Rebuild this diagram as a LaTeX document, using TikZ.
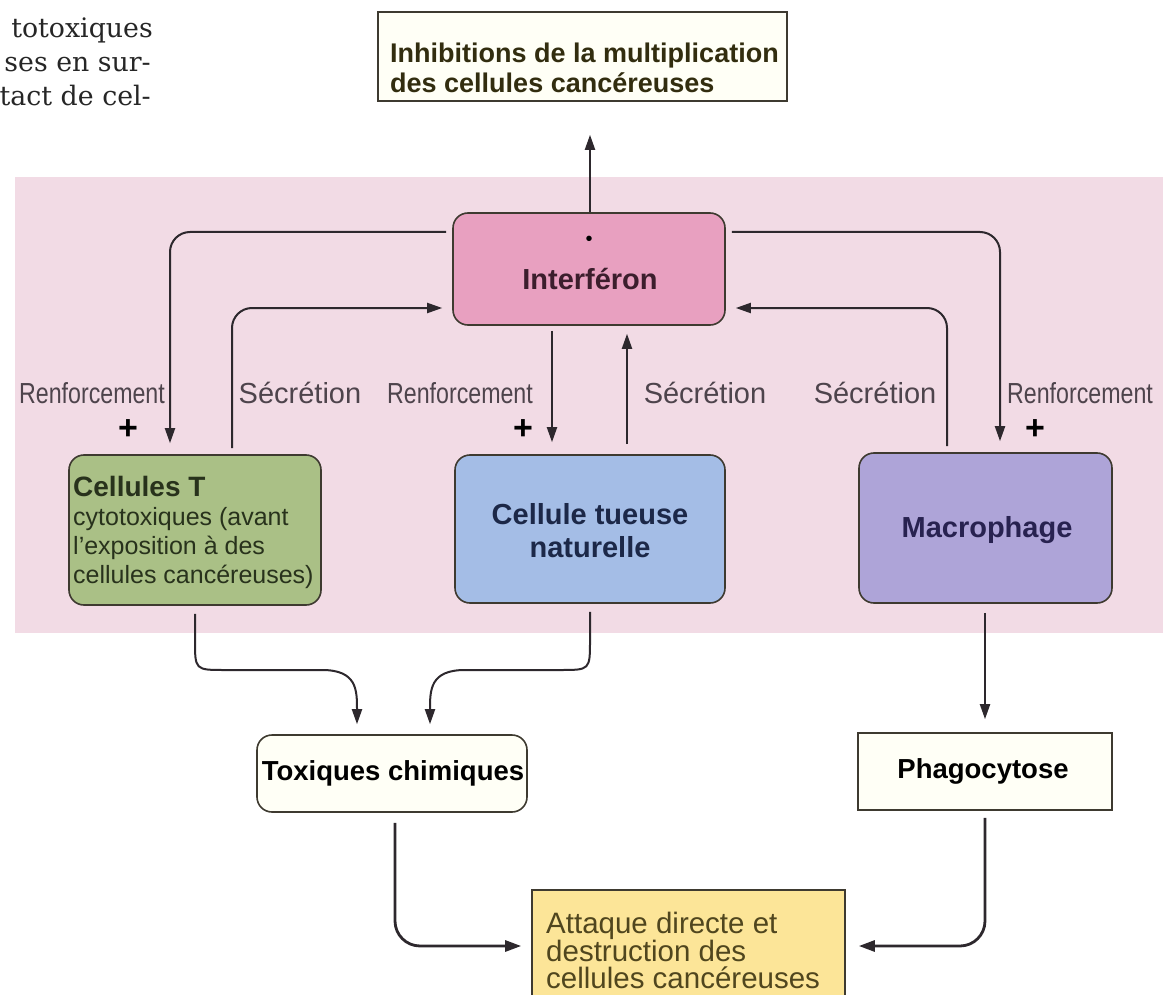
\documentclass[tikz,border=0pt]{standalone}
\usepackage{fontspec}
\setmainfont{Liberation Sans}
\newfontfamily\bookserif{DejaVu Serif}
\usetikzlibrary{arrows.meta}
\definecolor{pinkbg}{RGB}{242,219,229}
\definecolor{interc}{RGB}{232,160,192}
\definecolor{greenc}{RGB}{170,192,134}
\definecolor{bluec}{RGB}{164,189,230}
\definecolor{purplec}{RGB}{174,164,216}
\definecolor{yellowc}{RGB}{252,229,152}
\definecolor{creamc}{RGB}{255,255,246}
\definecolor{borderc}{RGB}{62,58,48}
\definecolor{linec}{RGB}{45,40,45}
\definecolor{labelc}{RGB}{78,68,76}
\definecolor{greent}{RGB}{40,50,28}
\definecolor{bluet}{RGB}{28,40,72}
\definecolor{purplet}{RGB}{40,34,80}
\definecolor{intert}{RGB}{60,30,45}
\definecolor{olivet}{RGB}{50,45,15}
\definecolor{yellowt}{RGB}{80,70,30}
\begin{document}
\begin{tikzpicture}[x=1pt,y=-1pt,
  box/.style={draw=borderc, line width=1.6pt, inner sep=0pt},
  rbox/.style={box, rounded corners=15pt},
  arr/.style={draw=linec, line width=2pt, -{Triangle[length=15pt,width=10pt]}},
  arrb/.style={draw=linec, line width=2.8pt, -{Triangle[length=16pt,width=11pt]}},
  lab/.style={text=labelc, inner sep=0pt, font=\fontsize{29}{29}\selectfont},
  plus/.style={text=black, inner sep=0pt, font=\fontsize{34}{34}\selectfont\bfseries},
  para/.style={anchor=base east, inner sep=0pt, text=black!85, font=\bookserif\fontsize{26.8}{26.8}\selectfont}
]
\useasboundingbox (0,0) rectangle (1170,995);

% margin text of the page
\node[para] (p1) at (153,38) {totoxiques};
\node[para] (p2) at (151,72) {ses en sur-};
\node[para] (p3) at (151,106) {tact de cel-};

% pink background
\fill[pinkbg] (15,177) rectangle (1163,633);

% boxes
\node[box, fill=creamc, minimum width=409pt, minimum height=89pt] (top) at (582.5,56.5) {};
\node[anchor=west, align=left, inner sep=0pt, text=olivet,
      font=\fontsize{27}{30}\selectfont\bfseries] (topT) at (390,68)
      {Inhibitions de la multiplication\\des cellules cancéreuses};

\node[rbox, fill=interc, minimum width=272pt, minimum height=112pt] (interf) at (589,269) {};
\node[inner sep=0pt, text=black, font=\fontsize{20}{20}\selectfont] (dot) at (589,241) {•};
\node[inner sep=0pt, text=intert, font=\fontsize{29}{29}\selectfont\bfseries] (interfT) at (590,279.5) {Interféron};

\node[rbox, fill=greenc, minimum width=252pt, minimum height=150pt] (celT) at (195,530) {};
\node[anchor=west, align=left, inner sep=0pt, text=greent,
      font=\fontsize{25}{29}\selectfont] (celTT) at (73,532)
      {{\fontsize{28}{29}\selectfont\bfseries Cellules T}\\cytotoxiques (avant\\l’exposition à des\\cellules cancéreuses)};

\node[rbox, fill=bluec, minimum width=270pt, minimum height=148pt] (ctn) at (590,529) {};
\node[align=center, inner sep=0pt, text=bluet,
      font=\fontsize{29}{33}\selectfont\bfseries] (ctnT) at (590,531)
      {Cellule tueuse\\naturelle};

\node[rbox, fill=purplec, minimum width=253pt, minimum height=150pt] (mac) at (985.5,528) {};
\node[inner sep=0pt, text=purplet, font=\fontsize{29}{29}\selectfont\bfseries] (macT) at (987,530) {Macrophage};

\node[rbox, fill=creamc, minimum width=270pt, minimum height=77pt] (tox) at (392,773.5) {};
\node[inner sep=0pt, text=black, font=\fontsize{27.5}{27.5}\selectfont\bfseries] (toxT) at (393,773) {Toxiques chimiques};

\node[box, fill=creamc, minimum width=254pt, minimum height=77pt] (phago) at (985,771.5) {};
\node[inner sep=0pt, text=black, font=\fontsize{27.5}{27.5}\selectfont\bfseries] (phagoT) at (983,771) {Phagocytose};

\node[box, fill=yellowc, minimum width=313pt, minimum height=114pt] (yel) at (688.5,947) {};
\node[anchor=west, align=left, inner sep=0pt, text=yellowt,
      font=\fontsize{29.5}{27.5}\selectfont] (yelT) at (546,950.5)
      {Attaque directe et\\destruction des\\cellules cancéreuses};

% labels
\node[lab] (r1) at (92,393) {\scalebox{0.8}[1]{Renforcement}};
\node[lab] (r2) at (460,393) {\scalebox{0.8}[1]{Renforcement}};
\node[lab] (r3) at (1080,393) {\scalebox{0.8}[1]{Renforcement}};
\node[lab] (s1) at (300,393) {Sécrétion};
\node[lab] (s2) at (705,393) {Sécrétion};
\node[lab] (s3) at (875,393) {Sécrétion};
\node[plus] (pl1) at (128,430) {+};
\node[plus] (pl2) at (523,430) {+};
\node[plus] (pl3) at (1035,430) {+};

% connectors
\draw[arr, shorten >=33pt] (590,0 |- interf.north) -- (590,0 |- top.south);
\draw[arr, rounded corners=20pt, shorten <=6pt, shorten >=11pt] (interf.west |- 0,232) -| (170,0 |- celT.north);
\draw[arr, rounded corners=20pt, shorten <=6pt, shorten >=10pt] (232,0 |- celT.north) |- (interf.west |- 0,308);
\draw[arr, shorten <=5pt, shorten >=12pt] (552,0 |- interf.south) -- (552,0 |- ctn.north);
\draw[arr, shorten <=10pt, shorten >=8pt] (627,0 |- ctn.north) -- (627,0 |- interf.south);
\draw[arr, rounded corners=20pt, shorten <=6pt, shorten >=11pt] (interf.east |- 0,232) -| (1000,0 |- mac.north);
\draw[arr, rounded corners=20pt, shorten <=6pt, shorten >=10pt] (947,0 |- mac.north) |- (interf.east |- 0,308);

\draw[arr, shorten <=8pt, shorten >=10pt] (195,0 |- celT.south) -- (195,640)
   .. controls (195,670) .. (225,670) -- (322,670)
   .. controls (357,670) and (357,690) .. (357,0 |- tox.north);
\draw[arr, shorten <=8pt, shorten >=10pt] (590,0 |- ctn.south) -- (590,640)
   .. controls (590,670) .. (560,670) -- (465,670)
   .. controls (430,670) and (430,690) .. (430,0 |- tox.north);
\draw[arr, shorten <=9pt, shorten >=13pt] (985,0 |- mac.south) -- (985,0 |- phago.north);

\draw[arrb, rounded corners=25pt, shorten <=10pt, shorten >=10pt] (395,0 |- tox.south) |- (yel.west |- 0,946);
\draw[arrb, rounded corners=25pt, shorten <=7pt, shorten >=13pt] (985,0 |- phago.south) |- (yel.east |- 0,946);
\end{tikzpicture}
\end{document}
